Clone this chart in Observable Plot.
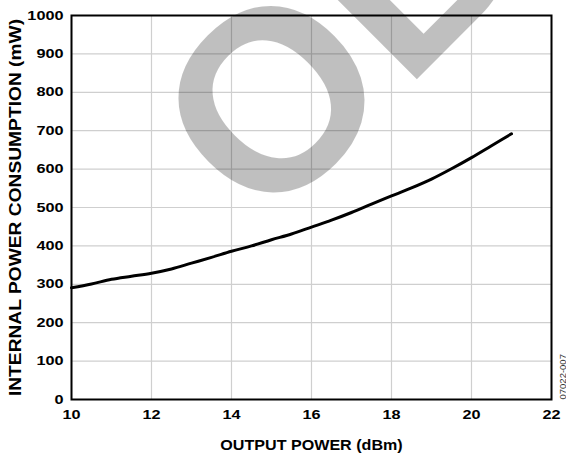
<!DOCTYPE html>
<html><head><meta charset="utf-8">
<script src="https://cdn.jsdelivr.net/npm/d3@7"></script>
<script src="https://cdn.jsdelivr.net/npm/@observablehq/plot@0.6"></script>
<style>body{margin:0;background:#fff}</style>
</head><body><div id="chart"></div>
<script>
const outputPower = [10, 10.5, 11, 11.5, 12, 12.5, 13, 13.5, 14, 14.5, 15, 15.5, 16, 16.5, 17, 17.5, 18, 18.5, 19, 19.5, 20, 20.5, 21];
const consumption = [291, 301, 313, 321, 329, 340, 355, 370, 386, 400, 416, 431, 449, 467, 487, 509, 530, 551, 574, 601, 630, 661, 692];
const xTicks = [10, 12, 14, 16, 18, 20, 22];
const yTicks = [0, 100, 200, 300, 400, 500, 600, 700, 800, 900, 1000];
const xLabel = "OUTPUT POWER (dBm)";
const yLabel = "INTERNAL POWER CONSUMPTION (mW)";
const figureId = "07022-007";
const watermark = "OBSOLETE";

const data = outputPower.map((x, i) => ({x, y: consumption[i]}));
const gridStyle = {stroke: "#cfcfcf", strokeOpacity: 1, strokeWidth: 1.2};

const svg = Plot.plot({
  width: 566, height: 456,
  marginLeft: 71, marginRight: 15, marginTop: 15, marginBottom: 57,
  style: {fontFamily: "'Liberation Sans', Arial, Helvetica, sans-serif", fontWeight: "bold", fontSize: "13px", color: "#000", background: "#fff"},
  x: {domain: [10, 22]},
  y: {domain: [0, 1000]},
  marks: [
    Plot.gridX(xTicks, gridStyle),
    Plot.gridY(yTicks, gridStyle),
    Plot.line(data, {x: "x", y: "y", stroke: "#000", strokeWidth: 3, curve: "monotone-x"}),
    Plot.frame({stroke: "#000", strokeWidth: 2}),
    Plot.axisX(xTicks, {tickSize: 0, tickPadding: 10, tickFormat: d => String(d), label: xLabel, labelAnchor: "center", labelArrow: "none", labelOffset: 50}),
    Plot.axisY(yTicks, {tickSize: 0, tickPadding: 8, tickFormat: d => String(d), label: yLabel, labelAnchor: "center", labelArrow: "none", labelOffset: 63}),
    Plot.text([figureId], {frameAnchor: "bottom-right", rotate: -90, textAnchor: "start", lineAnchor: "bottom", dx: 14, fontSize: 9.5, fontWeight: "normal", fill: "#333"})
  ]
});

// widen text along its reading direction (the original face is wider than Arial)
function stretch(sel, sx, fontSize) {
  svg.querySelectorAll(sel).forEach(g => {
    if (fontSize) g.setAttribute("font-size", fontSize);
    g.querySelectorAll("text").forEach(t => {
      const tr = t.getAttribute("transform") || "";
      t.setAttribute("transform", `${tr} scale(${sx},1)`);
    });
  });
}
stretch('[aria-label="x-axis tick label"]', 1.25);
stretch('[aria-label="y-axis tick label"]', 1.25);
stretch('[aria-label="x-axis label"]', 1.15, 14);
stretch('[aria-label="y-axis label"]', 1.13, 17);

d3.select(svg).append("text")
  .attr("transform", "translate(264,232) rotate(-45)")
  .attr("text-anchor", "start")
  .attr("font-size", 256)
  .attr("font-weight", "bold")
  .attr("font-family", "'Liberation Sans', Arial, sans-serif")
  .attr("fill", "#000")
  .attr("fill-opacity", 0.25)
  .text(watermark);

document.getElementById("chart").appendChild(svg);
</script>
</body></html>
